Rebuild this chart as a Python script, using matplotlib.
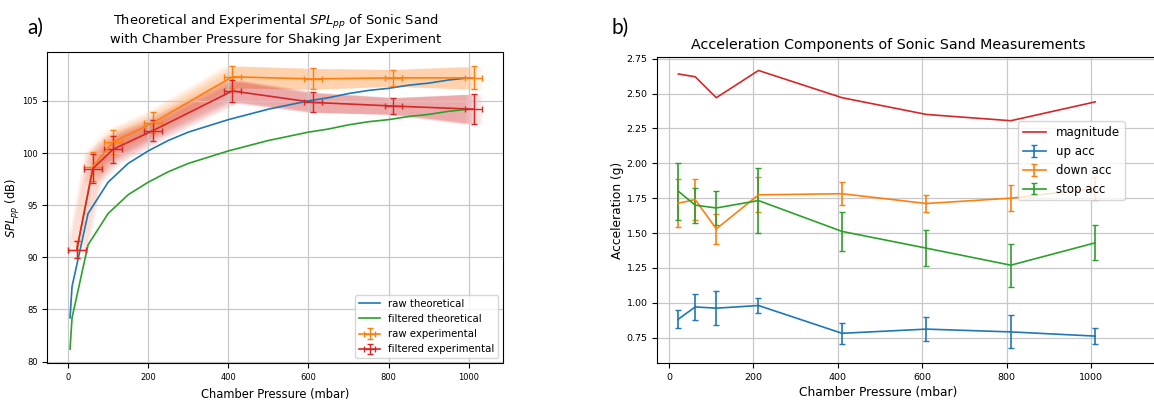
import numpy as np
import matplotlib
matplotlib.use("Agg")
import matplotlib.pyplot as plt

# ---- panel a) data ----
theory_p = [5, 10, 50, 100, 150, 200, 250, 300, 350, 400, 450, 500, 550,
            600, 650, 700, 750, 800, 850, 900, 950, 1000]
raw_theory = [84.2, 87.2, 94.2, 97.2, 99.0, 100.2, 101.2, 102.0, 102.6, 103.2, 103.7,
              104.2, 104.6, 105.0, 105.3, 105.7, 106.0, 106.2, 106.5, 106.7, 107.0, 107.2]
filt_theory = [81.2, 84.2, 91.2, 94.2, 96.0, 97.2, 98.2, 99.0, 99.6, 100.2, 100.7,
               101.2, 101.6, 102.0, 102.3, 102.7, 103.0, 103.2, 103.5, 103.7, 104.0, 104.2]

exp_p = [22, 62, 112, 212, 410, 612, 812, 1012]
exp_p_err = [22, 22, 22, 22, 22, 22, 22, 22]
raw_exp = [90.75, 98.7, 101.05, 102.9, 107.3, 107.1, 107.2, 107.2]
raw_exp_err = [0.85, 1.4, 1.15, 1.0, 1.05, 1.0, 0.8, 1.1]
filt_exp = [90.75, 98.5, 100.35, 102.15, 105.95, 104.85, 104.5, 104.2]
filt_exp_err = [0.85, 1.4, 1.3, 1.0, 1.05, 0.95, 0.8, 1.45]

# ---- panel b) data ----
acc_p = [22, 62, 112, 212, 410, 610, 810, 1010]
magnitude = [2.64, 2.62, 2.47, 2.665, 2.47, 2.35, 2.305, 2.44]
up_acc = [0.883, 0.971, 0.962, 0.981, 0.782, 0.812, 0.792, 0.762]
up_err = [0.063, 0.095, 0.12, 0.056, 0.076, 0.087, 0.118, 0.055]
down_acc = [1.714, 1.74, 1.53, 1.774, 1.782, 1.712, 1.75, 1.82]
down_err = [0.17, 0.145, 0.107, 0.125, 0.083, 0.064, 0.094, 0.083]
stop_acc = [1.80, 1.70, 1.68, 1.733, 1.512, 1.392, 1.27, 1.43]
stop_err = [0.205, 0.125, 0.124, 0.23, 0.14, 0.13, 0.155, 0.125]


def shaded_band(ax, p, p_err, y, y_err, color, alpha):
    # smear the +-y band sideways over the +-x error to get the fan look
    p = np.array(p, dtype=float)
    p_err = np.array(p_err, dtype=float)
    y = np.array(y, dtype=float)
    y_err = np.array(y_err, dtype=float)
    for s in np.linspace(-1, 1, 9):
        ax.fill_between(p + s * p_err, y - y_err, y + y_err, color=color,
                        alpha=alpha, linewidth=0)


fig = plt.figure(figsize=(11.54, 4.01), dpi=100)

# panel a
ax1 = fig.add_axes([0.041, 0.094, 0.395, 0.777])
ax1.plot(theory_p, raw_theory, color="tab:blue", lw=1.2, label="raw theoretical")
ax1.plot(theory_p, filt_theory, color="tab:green", lw=1.2, label="filtered theoretical")
shaded_band(ax1, exp_p, exp_p_err, raw_exp, raw_exp_err, "tab:orange", 0.045)
shaded_band(ax1, exp_p, exp_p_err, filt_exp, filt_exp_err, "tab:red", 0.05)
ax1.errorbar(exp_p, raw_exp, yerr=raw_exp_err, xerr=exp_p_err, color="tab:orange",
             lw=1.2, elinewidth=1.0, capsize=2.5, label="raw experimental")
ax1.errorbar(exp_p, filt_exp, yerr=filt_exp_err, xerr=exp_p_err, color="tab:red",
             lw=1.2, elinewidth=1.0, capsize=2.5, label="filtered experimental")
ax1.grid(True, color="#c8c8c8", lw=0.9)
ax1.set_title("Theoretical and Experimental $SPL_{pp}$ of Sonic Sand\n"
              "with Chamber Pressure for Shaking Jar Experiment", fontsize=9.4)
ax1.set_xlabel("Chamber Pressure (mbar)", fontsize=8.3)
ax1.set_ylabel("$SPL_{pp}$ (dB)", fontsize=8.3, labelpad=0)
ax1.tick_params(labelsize=6)
ax1.legend(loc="lower right", fontsize=7.3)

# panel b
ax2 = fig.add_axes([0.5697, 0.094, 0.44, 0.764])
ax2.plot(acc_p, magnitude, color="tab:red", lw=1.2, label="magnitude")
ax2.errorbar(acc_p, up_acc, yerr=up_err, color="tab:blue", lw=1.2, capsize=2.5,
             label="up acc")
ax2.errorbar(acc_p, down_acc, yerr=down_err, color="tab:orange", lw=1.2, capsize=2.5,
             label="down acc")
ax2.errorbar(acc_p, stop_acc, yerr=stop_err, color="tab:green", lw=1.2, capsize=2.5,
             label="stop acc")
ax2.set_xlim(-27.5, 1176)
ax2.set_ylim(0.567, 2.762)
ax2.set_yticks([0.75, 1.0, 1.25, 1.5, 1.75, 2.0, 2.25, 2.5, 2.75])
ax2.grid(True, color="#c8c8c8", lw=0.9)
ax2.set_title("Acceleration Components of Sonic Sand Measurements", fontsize=10.3,
              x=0.455)
ax2.set_xlabel("Chamber Pressure (mbar)", fontsize=8.8)
ax2.xaxis.set_label_coords(0.435, -0.075)
ax2.set_ylabel("Acceleration (g)", fontsize=8.8, labelpad=2)
ax2.tick_params(labelsize=6.8)
ax2.legend(loc="upper left", bbox_to_anchor=(0.71, 0.79), borderaxespad=0,
           fontsize=8.5)

fig.text(0.031, 0.93, "a)", fontsize=15, family=["Lato", "DejaVu Sans"], ha="center", va="center")
fig.text(0.537, 0.93, "b)", fontsize=15, family=["Lato", "DejaVu Sans"], ha="center", va="center")

fig.savefig("out.png", dpi=100)
